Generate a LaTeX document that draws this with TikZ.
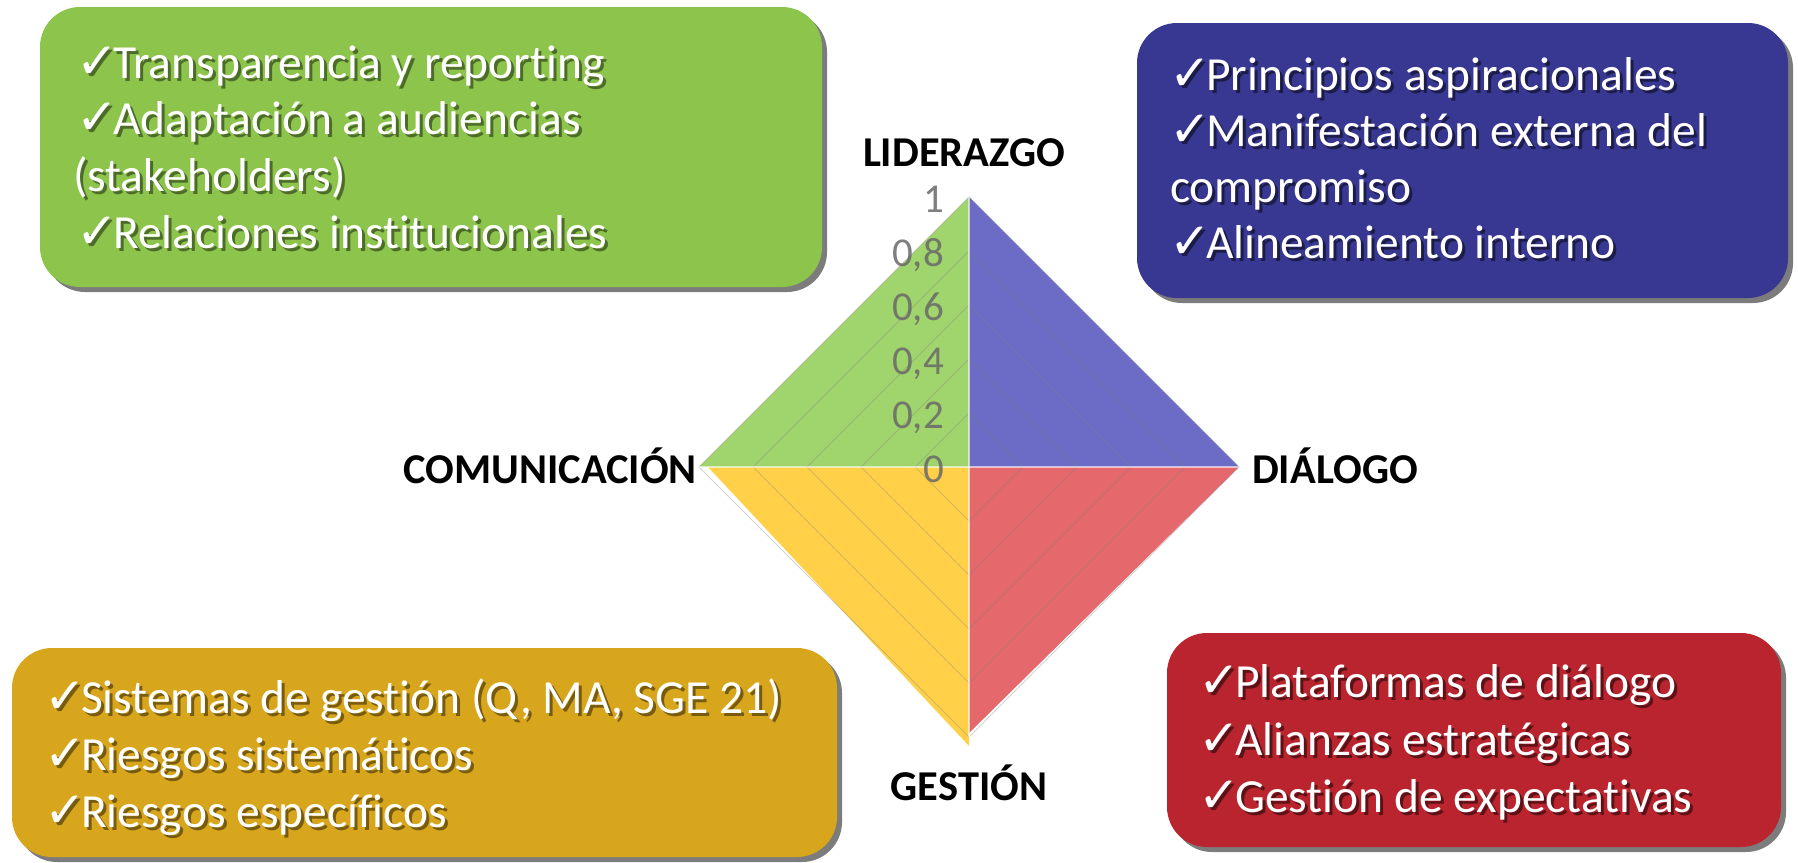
\documentclass[tikz,border=0pt]{standalone}
\usepackage{fontspec}
\setmainfont{Carlito}[Ligatures=NoCommon]
\newfontfamily\ckfont{DejaVu Sans}
\usetikzlibrary{shadows}
\definecolor{gbox}{RGB}{140,196,76}
\definecolor{bbox}{RGB}{56,56,146}
\definecolor{ybox}{RGB}{216,166,28}
\definecolor{rbox}{RGB}{186,36,46}
\definecolor{gfill}{RGB}{160,212,108}
\definecolor{bfill}{RGB}{108,108,198}
\definecolor{rfill}{RGB}{228,104,108}
\definecolor{yfill}{RGB}{255,208,72}
\definecolor{tickgray}{RGB}{105,105,105}
\colorlet{gsh}{gbox!55!black}
\colorlet{bsh}{bbox!50!black}
\colorlet{ysh}{ybox!55!black}
\colorlet{rsh}{rbox!50!black}
\tikzset{
  box/.style={rounded corners=40pt, inner sep=0pt, draw=none,
    drop shadow={shadow xshift=5pt, shadow yshift=-5pt, fill=black!60, opacity=0.85}},
  ln/.style={anchor=base west, inner sep=0pt, text=white, font=\fontsize{47.5}{57}\selectfont},
  axl/.style={inner sep=0pt, text=black, font=\bfseries\fontsize{42.5}{46}\selectfont},
  tick/.style={anchor=base east, inner sep=0pt, text=tickgray, opacity=0.85, font=\fontsize{41}{44}\selectfont},
  grid/.style={draw=gray, line width=1pt, opacity=0.35},
}
% text with its own offset shadow, in one box
\newcommand\shtx[2]{\makebox[0pt][l]{\hspace{3pt}\raisebox{-3pt}{\color{#1}#2}}#2}
\newcommand\cm{{\ckfont\fontsize{50}{52}\selectfont ✓}\kern-5pt}
\begin{document}
\begin{tikzpicture}[x=1pt,y=-1pt]
\useasboundingbox[fill=white] (0,0) rectangle (1798,862);
% boxes
\node[box, fill=gbox, minimum width=782pt, minimum height=280pt] (gbx) at (431,147) {};
\node[box, fill=bbox, minimum width=651pt, minimum height=275pt] (bbx) at (1462.5,160.5) {};
\node[box, fill=ybox, minimum width=825pt, minimum height=209pt] (ybx) at (424.5,752.5) {};
\node[box, fill=rbox, minimum width=614pt, minimum height=214pt] (rbx) at (1474,740) {};
% green text
\node[ln] (g1) at (76,78)  {\shtx{gsh}{\cm Transparencia y reporting}};
\node[ln] (g2) at (76,134) {\shtx{gsh}{\cm Adaptación a audiencias}};
\node[ln] (g3) at (73,191) {\shtx{gsh}{(stakeholders)}};
\node[ln] (g4) at (76,248) {\shtx{gsh}{\cm Relaciones institucionales}};
% blue text
\node[ln] (b1) at (1169,90)  {\shtx{bsh}{\cm Principios aspiracionales}};
\node[ln] (b2) at (1169,146) {\shtx{bsh}{\cm Manifestación externa del}};
\node[ln] (b3) at (1170,202) {\shtx{bsh}{compromiso}};
\node[ln] (b4) at (1169,258) {\shtx{bsh}{\cm Alineamiento interno}};
% yellow text
\node[ln] (y1) at (44,713) {\shtx{ysh}{\cm Sistemas de gestión (Q, MA, SGE 21)}};
\node[ln] (y2) at (44,770) {\shtx{ysh}{\cm Riesgos sistemáticos}};
\node[ln] (y3) at (44,827) {\shtx{ysh}{\cm Riesgos específicos}};
% red text
\node[ln] (r1) at (1198,697) {\shtx{rsh}{\cm Plataformas de diálogo}};
\node[ln] (r2) at (1198,755) {\shtx{rsh}{\cm Alianzas estratégicas}};
\node[ln] (r3) at (1198,812) {\shtx{rsh}{\cm Gestión de expectativas}};
% diamond
\coordinate (C) at (969,467);
\coordinate (T) at (969,197);
\coordinate (R) at (1239,467);
\coordinate (L) at (699,467);
\coordinate (B) at (969,737);
\coordinate (Yl) at (708,467);
\coordinate (Yb) at (969,746);
\coordinate (Rb) at (969,733);
\fill[gfill] (C) -- (T) -- (L) -- cycle;
\fill[bfill] (C) -- (T) -- (R) -- cycle;
\fill[rfill] (C) -- (R) -- (Rb) -- cycle;
\fill[yfill] (C) -- (Yl) -- (Yb) -- cycle;
\foreach \v in {0.2,0.4,0.6,0.8,1.0}{
  \draw[grid] (969,467-270*\v) -- (969+270*\v,467) -- (969,467+270*\v) -- (969-270*\v,467) -- cycle;
}
\draw[draw=white, line width=2pt, opacity=0.6] (L) -- (R);
\draw[draw=white, line width=2pt, opacity=0.6] (T) -- (B);
% tick labels
\node[tick] (t10) at (944,212) {1};
\node[tick] (t08) at (944,266) {0,8};
\node[tick] (t06) at (944,320) {0,6};
\node[tick] (t04) at (944,374) {0,4};
\node[tick] (t02) at (944,428) {0,2};
\node[tick] (t00) at (944,482) {0};
% axis labels
\node[axl, anchor=base] (lid) at (964,166) {LIDERAZGO};
\node[axl, anchor=base east] (com) at (697,483) {COMUNICACIÓN};
\node[axl, anchor=base west] (dia) at (1252,483) {DIÁLOGO};
\node[axl, anchor=base] (ges) at (969,800) {GESTIÓN};
\end{tikzpicture}
\end{document}
